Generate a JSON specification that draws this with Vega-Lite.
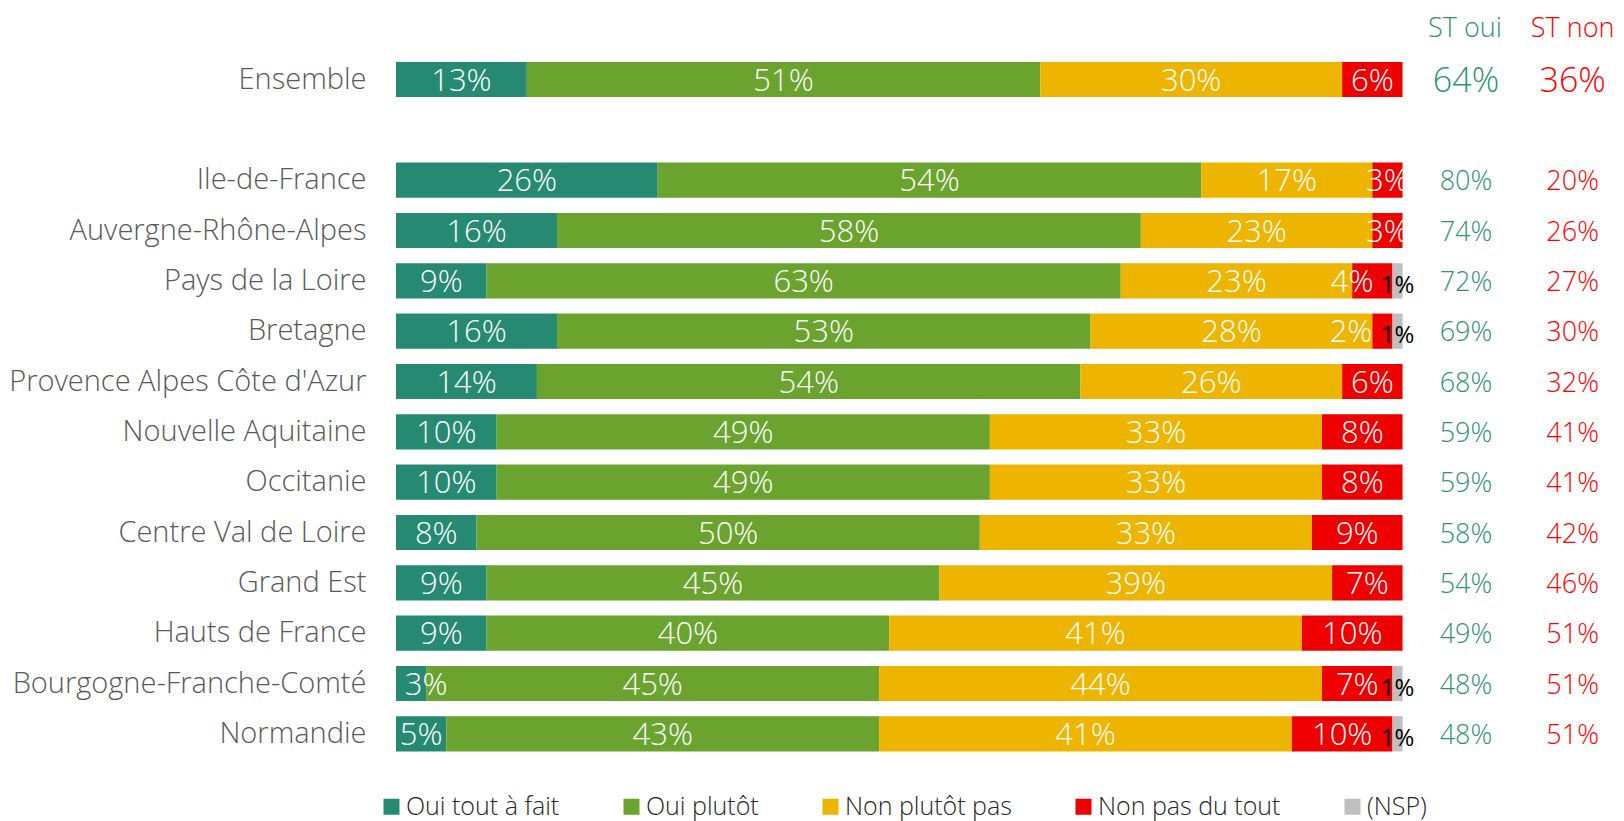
{
  "$schema": "https://vega.github.io/schema/vega-lite/v6.json",
  "width": 1228,
  "height": 755,
  "autosize": {"type": "none"},
  "padding": {"left": 396, "top": 4, "right": 0, "bottom": 62},
  "config": {"view": {"stroke": null}, "font": "Open Sans"},
  "datasets": {
    "seg": [
      {"r": "Ensemble", "c": "Oui tout à fait", "v": 13},
      {"r": "Ensemble", "c": "Oui plutôt", "v": 51},
      {"r": "Ensemble", "c": "Non plutôt pas", "v": 30},
      {"r": "Ensemble", "c": "Non pas du tout", "v": 6},
      {"r": "Ile-de-France", "c": "Oui tout à fait", "v": 26},
      {"r": "Ile-de-France", "c": "Oui plutôt", "v": 54},
      {"r": "Ile-de-France", "c": "Non plutôt pas", "v": 17},
      {"r": "Ile-de-France", "c": "Non pas du tout", "v": 3},
      {"r": "Auvergne-Rhône-Alpes", "c": "Oui tout à fait", "v": 16},
      {"r": "Auvergne-Rhône-Alpes", "c": "Oui plutôt", "v": 58},
      {"r": "Auvergne-Rhône-Alpes", "c": "Non plutôt pas", "v": 23},
      {"r": "Auvergne-Rhône-Alpes", "c": "Non pas du tout", "v": 3},
      {"r": "Pays de la Loire", "c": "Oui tout à fait", "v": 9},
      {"r": "Pays de la Loire", "c": "Oui plutôt", "v": 63},
      {"r": "Pays de la Loire", "c": "Non plutôt pas", "v": 23},
      {"r": "Pays de la Loire", "c": "Non pas du tout", "v": 4},
      {"r": "Pays de la Loire", "c": "(NSP)", "v": 1},
      {"r": "Bretagne", "c": "Oui tout à fait", "v": 16},
      {"r": "Bretagne", "c": "Oui plutôt", "v": 53},
      {"r": "Bretagne", "c": "Non plutôt pas", "v": 28},
      {"r": "Bretagne", "c": "Non pas du tout", "v": 2},
      {"r": "Bretagne", "c": "(NSP)", "v": 1},
      {"r": "Provence Alpes Côte d'Azur", "c": "Oui tout à fait", "v": 14},
      {"r": "Provence Alpes Côte d'Azur", "c": "Oui plutôt", "v": 54},
      {"r": "Provence Alpes Côte d'Azur", "c": "Non plutôt pas", "v": 26},
      {"r": "Provence Alpes Côte d'Azur", "c": "Non pas du tout", "v": 6},
      {"r": "Nouvelle Aquitaine", "c": "Oui tout à fait", "v": 10},
      {"r": "Nouvelle Aquitaine", "c": "Oui plutôt", "v": 49},
      {"r": "Nouvelle Aquitaine", "c": "Non plutôt pas", "v": 33},
      {"r": "Nouvelle Aquitaine", "c": "Non pas du tout", "v": 8},
      {"r": "Occitanie", "c": "Oui tout à fait", "v": 10},
      {"r": "Occitanie", "c": "Oui plutôt", "v": 49},
      {"r": "Occitanie", "c": "Non plutôt pas", "v": 33},
      {"r": "Occitanie", "c": "Non pas du tout", "v": 8},
      {"r": "Centre Val de Loire", "c": "Oui tout à fait", "v": 8},
      {"r": "Centre Val de Loire", "c": "Oui plutôt", "v": 50},
      {"r": "Centre Val de Loire", "c": "Non plutôt pas", "v": 33},
      {"r": "Centre Val de Loire", "c": "Non pas du tout", "v": 9},
      {"r": "Grand Est", "c": "Oui tout à fait", "v": 9},
      {"r": "Grand Est", "c": "Oui plutôt", "v": 45},
      {"r": "Grand Est", "c": "Non plutôt pas", "v": 39},
      {"r": "Grand Est", "c": "Non pas du tout", "v": 7},
      {"r": "Hauts de France", "c": "Oui tout à fait", "v": 9},
      {"r": "Hauts de France", "c": "Oui plutôt", "v": 40},
      {"r": "Hauts de France", "c": "Non plutôt pas", "v": 41},
      {"r": "Hauts de France", "c": "Non pas du tout", "v": 10},
      {"r": "Bourgogne-Franche-Comté", "c": "Oui tout à fait", "v": 3},
      {"r": "Bourgogne-Franche-Comté", "c": "Oui plutôt", "v": 45},
      {"r": "Bourgogne-Franche-Comté", "c": "Non plutôt pas", "v": 44},
      {"r": "Bourgogne-Franche-Comté", "c": "Non pas du tout", "v": 7},
      {"r": "Bourgogne-Franche-Comté", "c": "(NSP)", "v": 1},
      {"r": "Normandie", "c": "Oui tout à fait", "v": 5},
      {"r": "Normandie", "c": "Oui plutôt", "v": 43},
      {"r": "Normandie", "c": "Non plutôt pas", "v": 41},
      {"r": "Normandie", "c": "Non pas du tout", "v": 10},
      {"r": "Normandie", "c": "(NSP)", "v": 1}
    ],
    "st": [
      {"r": "Ensemble", "oui": 64, "non": 36},
      {"r": "Ile-de-France", "oui": 80, "non": 20},
      {"r": "Auvergne-Rhône-Alpes", "oui": 74, "non": 26},
      {"r": "Pays de la Loire", "oui": 72, "non": 27},
      {"r": "Bretagne", "oui": 69, "non": 30},
      {"r": "Provence Alpes Côte d'Azur", "oui": 68, "non": 32},
      {"r": "Nouvelle Aquitaine", "oui": 59, "non": 41},
      {"r": "Occitanie", "oui": 59, "non": 41},
      {"r": "Centre Val de Loire", "oui": 58, "non": 42},
      {"r": "Grand Est", "oui": 54, "non": 46},
      {"r": "Hauts de France", "oui": 49, "non": 51},
      {"r": "Bourgogne-Franche-Comté", "oui": 48, "non": 51},
      {"r": "Normandie", "oui": 48, "non": 51}
    ]
  },
  "layer": [
    {
      "data": {"name": "seg"},
      "transform": [
        {"calculate": "indexof(['Oui tout à fait','Oui plutôt','Non plutôt pas','Non pas du tout','(NSP)'], datum.c)", "as": "ord"},
        {"stack": "v", "groupby": ["r"], "sort": [{"field": "ord"}], "as": ["x0", "x1"]}
      ],
      "mark": {"type": "bar"},
      "encoding": {
        "y": {
          "field": "r", "type": "nominal", "title": null,
          "scale": {
            "domain": ["__hdr", "Ensemble", "__gap", "Ile-de-France", "Auvergne-Rhône-Alpes", "Pays de la Loire", "Bretagne", "Provence Alpes Côte d'Azur", "Nouvelle Aquitaine", "Occitanie", "Centre Val de Loire", "Grand Est", "Hauts de France", "Bourgogne-Franche-Comté", "Normandie"],
            "paddingInner": 0.3, "paddingOuter": 0.15
          },
          "axis": {
            "labelExpr": "indexof(datum.label, '__') === 0 ? '' : datum.label",
            "labelFontSize": 29, "labelColor": "#595959", "labelPadding": 30, "labelLimit": 600,
            "ticks": false, "domain": false, "labelFont": "Open Sans", "labelFontWeight": 300
          }
        },
        "x": {"field": "x0", "type": "quantitative", "scale": {"domain": [0, 122], "nice": false}, "axis": null},
        "x2": {"field": "x1"},
        "color": {
          "field": "c", "type": "nominal",
          "scale": {
            "domain": ["Oui tout à fait", "Oui plutôt", "Non plutôt pas", "Non pas du tout", "(NSP)"],
            "range": ["#268A72", "#6AA32E", "#EEB500", "#EE0000", "#BFBFBF"]
          },
          "legend": {
            "title": null, "orient": "none", "legendX": -17, "legendY": 790,
            "direction": "horizontal", "columns": 5, "symbolType": "square",
            "symbolSize": 256, "symbolStrokeWidth": 0, "labelFontSize": 25,
            "labelColor": "#262626", "columnPadding": 59, "labelOffset": 2,
            "labelFont": "Open Sans", "labelFontWeight": 300, "labelLimit": 400
          }
        }
      }
    },
    {
      "data": {"name": "seg"},
      "transform": [
        {"calculate": "indexof(['Oui tout à fait','Oui plutôt','Non plutôt pas','Non pas du tout','(NSP)'], datum.c)", "as": "ord"},
        {"stack": "v", "groupby": ["r"], "sort": [{"field": "ord"}], "as": ["x0", "x1"]},
        {"calculate": "(datum.x0 + datum.x1) / 2", "as": "mid"},
        {"calculate": "datum.v + '%'", "as": "lab"},
        {"filter": "datum.c !== '(NSP)' && !(datum.c === 'Non pas du tout' && (datum.r === 'Pays de la Loire' || datum.r === 'Bretagne')) && !(datum.c === 'Oui tout à fait' && datum.r === 'Bourgogne-Franche-Comté')"}
      ],
      "mark": {"type": "text", "color": "white", "fontSize": 31, "fontWeight": 300, "baseline": "middle", "dy": 2},
      "encoding": {
        "y": {"field": "r", "type": "nominal"},
        "x": {"field": "mid", "type": "quantitative"},
        "text": {"field": "lab"}
      }
    },
    {
      "data": {"name": "seg"},
      "transform": [
        {"calculate": "indexof(['Oui tout à fait','Oui plutôt','Non plutôt pas','Non pas du tout','(NSP)'], datum.c)", "as": "ord"},
        {"stack": "v", "groupby": ["r"], "sort": [{"field": "ord"}], "as": ["x0", "x1"]},
        {"calculate": "datum.v + '%'", "as": "lab"},
        {"filter": "(datum.c === 'Non pas du tout' && datum.r === 'Pays de la Loire')"}
      ],
      "mark": {"type": "text", "color": "white", "fontSize": 31, "fontWeight": 300, "baseline": "middle", "dy": 2, "align": "center"},
      "encoding": {
        "y": {"field": "r", "type": "nominal"},
        "x": {"field": "x0", "type": "quantitative"},
        "text": {"field": "lab"}
      }
    },
    {
      "data": {"name": "seg"},
      "transform": [
        {"calculate": "indexof(['Oui tout à fait','Oui plutôt','Non plutôt pas','Non pas du tout','(NSP)'], datum.c)", "as": "ord"},
        {"stack": "v", "groupby": ["r"], "sort": [{"field": "ord"}], "as": ["x0", "x1"]},
        {"calculate": "datum.v + '%'", "as": "lab"},
        {"filter": "(datum.c === 'Oui tout à fait' && datum.r === 'Bourgogne-Franche-Comté')"}
      ],
      "mark": {"type": "text", "color": "white", "fontSize": 31, "fontWeight": 300, "baseline": "middle", "dy": 2, "align": "center"},
      "encoding": {
        "y": {"field": "r", "type": "nominal"},
        "x": {"field": "x1", "type": "quantitative"},
        "text": {"field": "lab"}
      }
    },
    {
      "data": {"name": "seg"},
      "transform": [
        {"calculate": "indexof(['Oui tout à fait','Oui plutôt','Non plutôt pas','Non pas du tout','(NSP)'], datum.c)", "as": "ord"},
        {"stack": "v", "groupby": ["r"], "sort": [{"field": "ord"}], "as": ["x0", "x1"]},
        {"calculate": "datum.v + '%'", "as": "lab"},
        {"filter": "datum.c === 'Non pas du tout' && datum.r === 'Bretagne'"}
      ],
      "mark": {"type": "text", "color": "white", "fontSize": 31, "fontWeight": 300, "baseline": "middle", "dy": 2, "align": "right"},
      "encoding": {
        "y": {"field": "r", "type": "nominal"},
        "x": {"field": "x0", "type": "quantitative"},
        "text": {"field": "lab"}
      }
    },
    {
      "data": {"name": "seg"},
      "transform": [
        {"calculate": "indexof(['Oui tout à fait','Oui plutôt','Non plutôt pas','Non pas du tout','(NSP)'], datum.c)", "as": "ord"},
        {"stack": "v", "groupby": ["r"], "sort": [{"field": "ord"}], "as": ["x0", "x1"]},
        {"calculate": "(datum.x0 + datum.x1) / 2", "as": "mid"},
        {"calculate": "datum.v + '%'", "as": "lab"},
        {"filter": "datum.c === '(NSP)'"}
      ],
      "mark": {"type": "text", "color": "black", "fontSize": 24, "baseline": "middle", "dy": 5},
      "encoding": {
        "y": {"field": "r", "type": "nominal"},
        "x": {"field": "mid", "type": "quantitative"},
        "text": {"field": "lab"}
      }
    },
    {
      "data": {"name": "st"},
      "transform": [{"calculate": "datum.oui + '%'", "as": "lab"}],
      "mark": {"type": "text", "color": "#2E9475", "baseline": "middle", "dy": 2, "fontWeight": 300},
      "encoding": {
        "y": {"field": "r", "type": "nominal"},
        "x": {"datum": 106.3},
        "text": {"field": "lab"},
        "size": {"condition": {"test": "datum.r === 'Ensemble'", "value": 34}, "value": 27}
      }
    },
    {
      "data": {"name": "st"},
      "transform": [{"calculate": "datum.non + '%'", "as": "lab"}],
      "mark": {"type": "text", "color": "#FF0000", "baseline": "middle", "dy": 2, "fontWeight": 300},
      "encoding": {
        "y": {"field": "r", "type": "nominal"},
        "x": {"datum": 116.9},
        "text": {"field": "lab"},
        "size": {"condition": {"test": "datum.r === 'Ensemble'", "value": 34}, "value": 27}
      }
    },
    {
      "data": {"values": [{"t": "ST oui", "p": 106.2, "k": "oui"}, {"t": "ST non", "p": 116.9, "k": "non"}]},
      "mark": {"type": "text", "fontSize": 27, "fontWeight": 300, "baseline": "middle"},
      "encoding": {
        "y": {"datum": "__hdr", "type": "nominal"},
        "x": {"field": "p", "type": "quantitative"},
        "text": {"field": "t"},
        "color": {"condition": {"test": "datum.k === 'oui'", "value": "#2E9475"}, "value": "#FF0000"}
      }
    }
  ]
}
